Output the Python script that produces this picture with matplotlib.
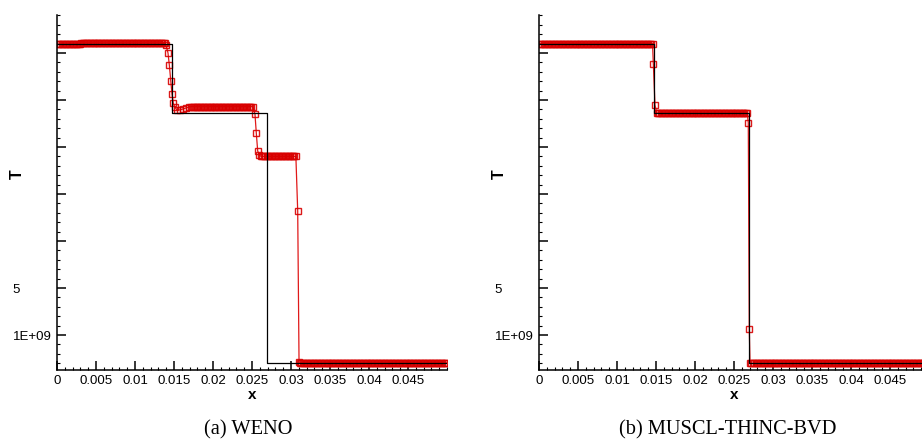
import numpy as np
import matplotlib.pyplot as plt
from matplotlib.ticker import MultipleLocator

# cell centres of the computational grid (used for the flat states)
dx = 0.05 / 280
x_cells = np.arange(dx / 2, 0.05, dx)

# exact solution (black line)
exact_x = [0.0, 0.01474, 0.01474, 0.0269, 0.0269, 0.05]
exact_T = [4.10, 4.10, 3.362, 3.362, 0.70, 0.70]

# WENO: flat states (x start, x end, T) + points read inside the jumps
weno_flat = [(0.0, 0.003, 4.095), (0.003, 0.0139, 4.11), (0.0171, 0.0252, 3.43),
             (0.0260, 0.0308, 2.90), (0.0311, 0.05, 0.705)]
weno_jump_x = [0.01397, 0.01423, 0.0144, 0.01458, 0.01474, 0.01491, 0.01509,
               0.01538, 0.01577, 0.01615, 0.01654, 0.01692,
               0.02538, 0.02555, 0.02573, 0.02594,
               0.03086, 0.03103]
weno_jump_T = [4.085, 4.0, 3.872, 3.702, 3.564, 3.468, 3.426,
               3.394, 3.394, 3.404, 3.415, 3.426,
               3.351, 3.149, 2.957, 2.915,
               2.319, 0.716]

# MUSCL-THINC-BVD
bvd_flat = [(0.0, 0.0146, 4.10), (0.0150, 0.0268, 3.362), (0.0270, 0.05, 0.70)]
bvd_jump_x = [0.01466, 0.01487, 0.02683, 0.02696]
bvd_jump_T = [3.883, 3.447, 3.259, 1.067]

xticks = [0, 0.005, 0.01, 0.015, 0.02, 0.025, 0.03, 0.035, 0.04, 0.045]
xticklabels = ['0', '0.005', '0.01', '0.015', '0.02', '0.025', '0.03', '0.035', '0.04', '0.045']
yticks = [1.0, 1.5, 2.0, 2.5, 3.0, 3.5, 4.0]
yticklabels = ['1E+09', '5', '', '', '', '', '']


def build(flat, jx, jT):
    xs = list(jx)
    ts = list(jT)
    for x0, x1, t in flat:
        sel = x_cells[(x_cells >= x0) & (x_cells < x1)]
        xs += list(sel)
        ts += [t] * len(sel)
    order = np.argsort(xs)
    return np.array(xs)[order], np.array(ts)[order]


def panel(ax, flat, jx, jT, caption, cap_x):
    x, t = build(flat, jx, jT)
    ax.plot(x, t, color='#dd0000', lw=0.9, marker='s', ms=4.6, mfc='none',
            mec='#d80000', mew=1.0, alpha=0.9, zorder=2)
    ax.plot(exact_x, exact_T, color='black', lw=0.9, zorder=3)
    ax.set_xlim(0, 0.05)
    ax.set_ylim(0.628, 4.404)
    for s in ['top', 'right']:
        ax.spines[s].set_visible(False)
    for s in ['left', 'bottom']:
        ax.spines[s].set_linewidth(1.1)
    ax.set_xticks(xticks)
    ax.set_xticklabels(xticklabels, fontsize=9.5, family='Liberation Sans')
    ax.set_yticks(yticks)
    ax.set_yticklabels(yticklabels, fontsize=9.5, family='Liberation Sans', ha='left')
    ax.xaxis.set_minor_locator(MultipleLocator(0.001))
    ax.yaxis.set_minor_locator(MultipleLocator(0.1))
    ax.tick_params(which='major', direction='in', length=6.5, width=1.1)
    ax.tick_params(which='minor', direction='in', length=2.2, width=0.8)
    ax.tick_params(axis='x', which='major', pad=3.5)
    ax.tick_params(axis='y', which='major', pad=32)
    ax.set_xlabel('x', fontsize=11, fontweight='bold', family='Liberation Sans', labelpad=1)
    ax.set_ylabel('T', fontsize=11.5, fontweight='bold', family='Liberation Sans')
    ax.yaxis.set_label_coords(-0.082, 0.552)
    ax.text(cap_x, -0.17, caption, transform=ax.transAxes, ha='center', va='center',
            fontsize=14.7, family='Liberation Serif')


fig = plt.figure(figsize=(9.22, 4.42), dpi=100)
ax1 = fig.add_axes([57 / 922, 72 / 442, 390 / 922, 355 / 442])
ax2 = fig.add_axes([539 / 922, 72 / 442, 390 / 922, 355 / 442])

panel(ax1, weno_flat, weno_jump_x, weno_jump_T, '(a) WENO', 0.491)
panel(ax2, bvd_flat, bvd_jump_x, bvd_jump_T, '(b) MUSCL-THINC-BVD', 0.485)

fig.savefig('out.png', dpi=100)
